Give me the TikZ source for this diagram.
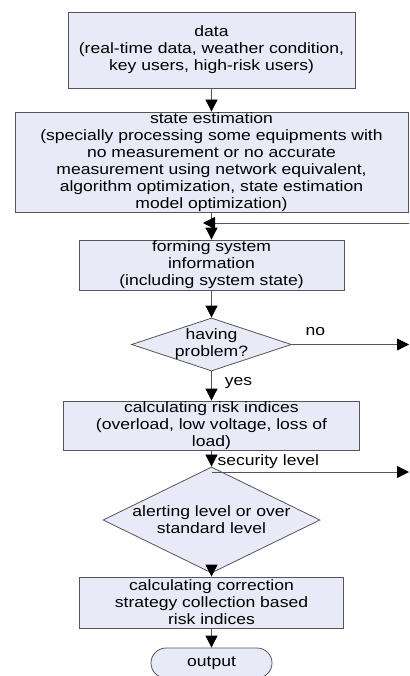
\documentclass[tikz,border=0pt]{standalone}
\usepackage{fontspec}
\setmainfont{Liberation Sans}[FakeStretch=1.17]
\usepackage{xcolor}
\usetikzlibrary{shapes,arrows.meta}
\definecolor{boxfill}{HTML}{E8EBF7}
\definecolor{edge}{HTML}{555555}

\begin{document}
\begin{tikzpicture}[x=1pt,y=-1pt,
  every node/.style={font=\fontsize{15}{17}\selectfont},
  box/.style={draw=edge,fill=boxfill,rectangle,align=center,inner sep=0pt,line width=0.8pt},
  decision/.style={draw=edge,fill=boxfill,diamond,align=center,inner sep=-20pt,line width=0.8pt},
  term/.style={draw=edge,fill=boxfill,rectangle,rounded corners=15pt,inner sep=0pt,line width=0.8pt},
  flow/.style={draw=edge,line width=0.8pt,-{Triangle[length=12pt,width=12pt,color=black]}}]
\useasboundingbox (0,0) rectangle (409,676);
%\draw[help lines] (0,0) grid[step=50] (409,676);
\node[box,minimum width=287pt,minimum height=76pt] (data) at (211.5,50)
  {data\\(real-time data, weather condition,\\key users, high-risk users)};
\node[box,minimum width=393pt,minimum height=100pt] (est) at (211.5,162)
  {state estimation\\(specially processing some equipments with\\no measurement or no accurate\\measurement using network equivalent,\\algorithm optimization, state estimation\\model optimization)};
\node[box,minimum width=265pt,minimum height=50pt] (form) at (211.5,265)
  {forming system\\information\\(including system state)};
\node[decision,minimum width=160pt,minimum height=53pt] (prob) at (211.5,344.5)
  {having\\problem?};
\node[box,minimum width=296pt,minimum height=49pt] (risk) at (211.5,425.5)
  {calculating risk indices\\(overload, low voltage, loss of\\load)};
\node[decision,minimum width=217pt,minimum height=66pt] (alert) at (211.5,520)
  {alerting level or over\\standard level};
\node[box,minimum width=264pt,minimum height=51pt] (corr) at (211.5,602.5)
  {calculating correction\\strategy collection based\\risk indices};
\node[term,minimum width=121pt,minimum height=30pt] (out) at (211.5,663) {output};
% branch labels
\node[anchor=west] (no) at (302,332) {no};
\node (yes) at (238.5,383) {yes};
\node[anchor=west] (seclab) at (214,462) {security level};
% loose ends at the right margin
\coordinate (fb) at (409,223);
\coordinate (fbtip) at (203,223);
\coordinate (noend) at (409,344.5);
\coordinate (sec) at (211.5,472);
\coordinate (secend) at (409,472);
\draw[flow] (data) -- (est);
\draw[flow] (est) -- (form);
\draw[flow] (fb) -- (fbtip);
\draw[flow] (form) -- (prob);
\draw[flow] (prob) -- (noend);
\draw[flow] (prob) -- (risk);
\draw[flow] (risk) -- (alert);
\draw[flow] (sec) -- (secend);
\draw[flow] (alert) -- (corr);
\draw[flow] (corr) -- (out);
\end{tikzpicture}
\end{document}
